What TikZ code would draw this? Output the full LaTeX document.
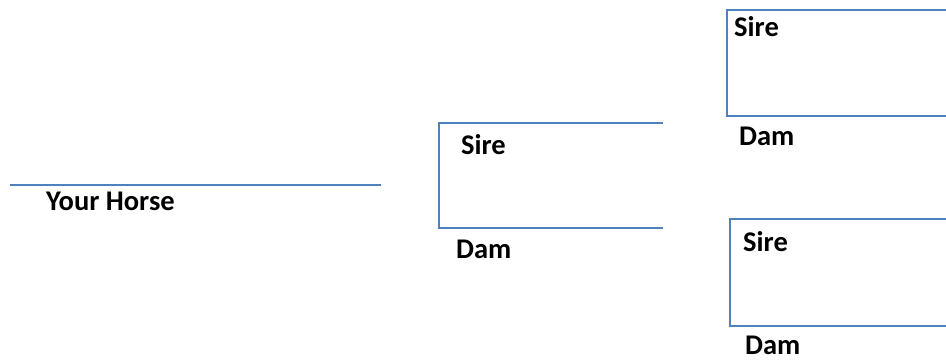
\documentclass[tikz,border=0pt]{standalone}
\usepackage{fontspec}
\setmainfont{Carlito}
\definecolor{lineblue}{HTML}{4F81BD}
\tikzset{
  bline/.style={draw=lineblue, line width=1.8pt},
  lbl/.style={anchor=west, inner sep=0pt, font=\fontsize{28.5}{32}\selectfont\bfseries}
}
\begin{document}
\begin{tikzpicture}[x=1pt,y=-1pt]
\useasboundingbox (0,0) rectangle (946,360);
% Your Horse
\coordinate (h1) at (10,185);
\coordinate (h2) at (381,185);
\draw[bline] (h1) -- (h2);
\node[lbl] (yh) at (46,201) {Your Horse};
% middle bracket
\coordinate (m1) at (663,123);
\coordinate (m2) at (439,123);
\coordinate (m3) at (439,228);
\coordinate (m4) at (663,228);
\draw[bline] (m1) -- (m2) -- (m3) -- (m4);
\node[lbl] (ms) at (461,145) {Sire};
\node[lbl] (md) at (456,249) {Dam};
% top right bracket
\coordinate (t1) at (946,10);
\coordinate (t2) at (727,10);
\coordinate (t3) at (727,116);
\coordinate (t4) at (946,116);
\draw[bline] (t1) -- (t2) -- (t3) -- (t4);
\node[lbl] (ts) at (734,27) {Sire};
\node[lbl] (td) at (739,136) {Dam};
% bottom right bracket
\coordinate (b1) at (946,219);
\coordinate (b2) at (730,219);
\coordinate (b3) at (730,326);
\coordinate (b4) at (946,326);
\draw[bline] (b1) -- (b2) -- (b3) -- (b4);
\node[lbl] (bs) at (743,242) {Sire};
\node[lbl] (bd) at (745,345) {Dam};
\end{tikzpicture}
\end{document}
